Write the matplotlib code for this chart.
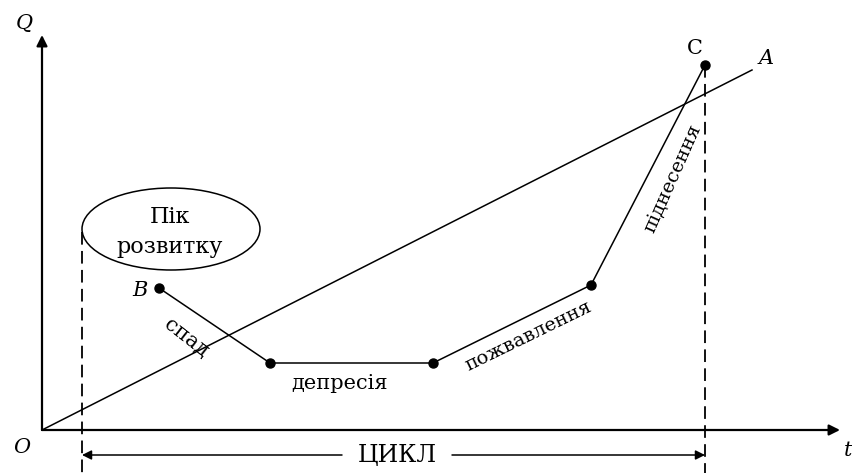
import matplotlib
matplotlib.use("Agg")
import matplotlib.pyplot as plt
from matplotlib.patches import Ellipse

# Cycle path points (origin at O, units ~ pixels)
cycle_x = [117, 228, 391, 549, 663]
cycle_y = [142, 67, 67, 145, 365]
cycle_names = ["B", "", "", "", "C"]

# Trend line O -> A
trend_x = [0, 710]
trend_y = [0, 360]

# Cycle boundaries (dashed verticals)
cycle_start = 40
cycle_end = 663

phase_labels = ["спад", "депресія", "пожвавлення", "піднесення"]
peak_label = ["Пік", "розвитку"]
cycle_label = "ЦИКЛ"

plt.rcParams["font.family"] = ["DejaVu Serif"]

fig = plt.figure(figsize=(8.52, 4.73), dpi=100)
ax = fig.add_axes([0, 0, 1, 1])
ax.set_xlim(-42, 810)
ax.set_ylim(-43, 430)
ax.axis("off")

# axes with arrows
ax.annotate("", xy=(0, 395), xytext=(0, 0),
            arrowprops=dict(arrowstyle="-|>", color="black", lw=1.6,
                            mutation_scale=16, shrinkA=0, shrinkB=0))
ax.annotate("", xy=(798, 0), xytext=(0, 0),
            arrowprops=dict(arrowstyle="-|>", color="black", lw=1.6,
                            mutation_scale=16, shrinkA=0, shrinkB=0))

# trend line
ax.plot(trend_x, trend_y, color="black", lw=1.1)

# cycle path
ax.plot(cycle_x, cycle_y, color="black", lw=1.1, marker="o",
        markersize=6.5)

# dashed verticals
ax.plot([cycle_start, cycle_start], [198, -45], color="black", lw=1.3,
        dashes=(7, 3.5))
ax.plot([cycle_end, cycle_end], [cycle_y[-1], -45], color="black", lw=1.3,
        dashes=(7, 3.5))

# peak ellipse
ax.add_patch(Ellipse((129, 201), 178, 82, fill=False, color="black", lw=1.1))
ax.text(128, 213, peak_label[0], ha="center", va="center", fontsize=16)
ax.text(128, 183, peak_label[1], ha="center", va="center", fontsize=16)

# cycle arrow
ax.annotate("", xy=(cycle_start, -25), xytext=(300, -25),
            arrowprops=dict(arrowstyle="-|>", color="black", lw=1.1,
                            mutation_scale=14, shrinkA=0, shrinkB=0))
ax.annotate("", xy=(cycle_end, -25), xytext=(410, -25),
            arrowprops=dict(arrowstyle="-|>", color="black", lw=1.1,
                            mutation_scale=14, shrinkA=0, shrinkB=0))
ax.text(355, -25, cycle_label, ha="center", va="center", fontsize=17)

# point and axis labels
ax.text(-18, 406, "Q", ha="center", va="center", fontsize=15, style="italic")
ax.text(-20, -17, "O", ha="center", va="center", fontsize=15, style="italic")
ax.text(810, -20, "t", ha="right", va="center", fontsize=15, style="italic")
ax.text(98, 139, cycle_names[0], ha="center", va="center", fontsize=15,
        style="italic")
ax.text(653, 381, cycle_names[4], ha="center", va="center", fontsize=15)
ax.text(724, 371, "A", ha="center", va="center", fontsize=15, style="italic")

# phase labels
ax.text(144, 92, phase_labels[0], ha="center", va="center", fontsize=15,
        rotation=-38)
ax.text(298, 47, phase_labels[1], ha="center", va="center", fontsize=15)
ax.text(486, 94, phase_labels[2], ha="center", va="center", fontsize=14,
        rotation=26)
ax.text(631, 252, phase_labels[3], ha="center", va="center", fontsize=14,
        rotation=66)

fig.savefig("out.png", dpi=100, facecolor="white")
